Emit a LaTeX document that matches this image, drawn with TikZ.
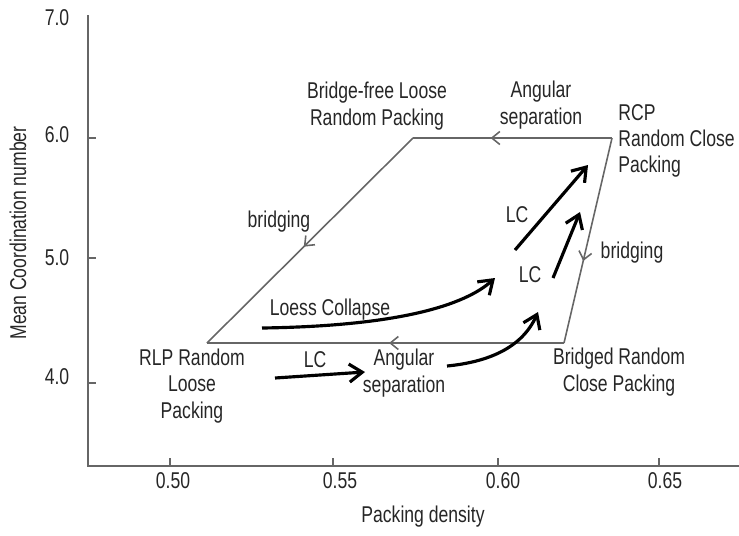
\documentclass[tikz,border=0pt]{standalone}
\usepackage{fontspec}
\setmainfont{Liberation Sans}[FakeStretch=0.77]
\usetikzlibrary{arrows.meta,positioning,decorations.markings}
\colorlet{myline}{black!60}
\colorlet{mytext}{black!85}
\tikzset{
	txt/.style={
		text=mytext, align=center, inner sep=0pt,
		font=\fontsize{13}{15}\selectfont,
	},
	axis/.style={draw=myline, line width=1.1pt},
	edge/.style={draw=myline, line width=0.9pt},
	flow/.style={
		draw, line width=1.8pt, -{Straight Barb[length=2.6mm,width=3.6mm]},
	},
	midarrow/.style={
		postaction={decorate},
		decoration={markings,
			mark=at position #1 with {\arrow{Straight Barb[length=1.6mm,width=2.6mm]}}},
	}
}

\begin{document}
\begin{tikzpicture}[x=0.02cm, y=-0.02cm]
	\useasboundingbox (0,0) rectangle (739,535);
	% Axes
	\draw[axis] (88,15) -- (88,466) -- (739,466);
	\foreach \y/\ly/\v/\n in {138/135/6.0/a, 258/258/5.0/b, 383/377/4.0/c}
	{
		\draw[axis] (88,\y) -- ++(8,0);
		\node[txt] (ytick\n) at (57,\ly) {\v};
	}
	\node[txt] (ytickt) at (57,18) {7.0};
	\foreach \x/\lx/\v/\n in {170/173/0.50/a, 333/340/0.55/b, 498/503/0.60/c, 659/665/0.65/d}
	{
		\draw[axis] (\x,466) -- ++(0,-8);
		\node[txt] (xtick\n) at (\lx,481) {\v};
	}
	\node[txt] (xlab) at (423,517) {Packing density};
	\node[txt, rotate=90] (ylab) at (18,233) {Mean Coordination number};
	% Packing states
	\coordinate (rlp) at (207,343);
	\coordinate (bf) at (413,138);
	\coordinate (rcp) at (612,138);
	\coordinate (brcp) at (564,343);
	\draw[edge, midarrow=0.61] (rcp) -- (bf);
	\draw[edge, midarrow=0.53] (bf) -- (rlp);
	\draw[edge, midarrow=0.60] (rcp) -- (brcp);
	\draw[edge, midarrow=0.49] (brcp) -- (rlp);
	% State labels
	\node[txt] (bflrp) at (377,106) {Bridge-free Loose\\Random Packing};
	\node[txt] (angtop) at (541,105) {Angular\\separation};
	\node[txt, anchor=west, align=left] (rcpl) at (618,141) {RCP\\Random Close\\Packing};
	\node[txt] (bridgel) at (279,222) {bridging};
	\node[txt] (bridger) at (632,253) {bridging};
	\node[txt] (rlpl) at (192,386) {RLP Random\\Loose\\Packing};
	\node[txt] (brcpl) at (619,372) {Bridged Random\\Close Packing};
	% Loess collapse paths
	\node[txt] (loess) at (330,310) {Loess Collapse};
	\node[txt] (lca) at (315,360) {LC};
	\node[txt] (angbot) at (404,373) {Angular\\separation};
	\node[txt] (lcb) at (530,275) {LC};
	\node[txt] (lcc) at (517,215) {LC};
	\coordinate (fas) at (262,328);
	\coordinate (fae) at (495,278);
	\draw[flow] (fas) .. controls (400,326) and (465,305) .. (fae);
	\coordinate (fbs) at (275,378);
	\coordinate (fbe) at (365,372);
	\draw[flow] (fbs) -- (fbe);
	\coordinate (fcs) at (447,366);
	\coordinate (fce) at (538,312);
	\draw[flow] (fcs) .. controls (488,362) and (522,348) .. (fce);
	\coordinate (fds) at (515,250);
	\coordinate (fde) at (588,165);
	\draw[flow] (fds) -- (fde);
	\coordinate (fes) at (553,278);
	\coordinate (fee) at (580,212);
	\draw[flow] (fes) -- (fee);
\end{tikzpicture}
\end{document}
